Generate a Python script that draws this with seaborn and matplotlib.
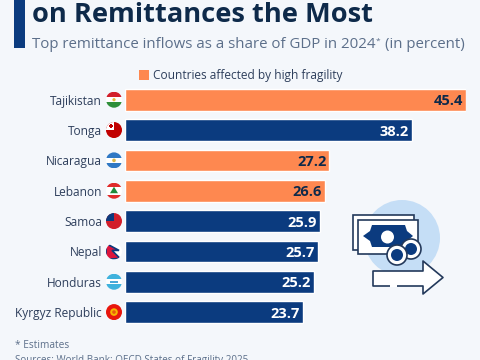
import matplotlib
matplotlib.use("Agg")
import matplotlib.pyplot as plt
from matplotlib.patches import Circle, Polygon, Rectangle
import pandas as pd
import seaborn as sns

countries = ["Tajikistan", "Tonga", "Nicaragua", "Lebanon", "Samoa", "Nepal", "Honduras", "Kyrgyz Republic"]
shares = [45.4, 38.2, 27.2, 26.6, 25.9, 25.7, 25.2, 23.7]
fragile = [True, False, True, True, False, False, False, False]
legend_label = "Countries affected by high fragility"
title = "on Remittances the Most"
subtitle = ["Top remittance inflows as a share of GDP in 2024", "*", "(in percent)"]
notes = ["* Estimates", "Sources: World Bank; OECD States of Fragility 2025"]

BG = "#f4f7fb"
NAVY = "#0b3b7f"
ORANGE = "#fe8850"
DARK = "#0e2a4a"
GREY = "#5c6f8a"
LABEL = "#2e3f5c"

sns.set_theme(style="white")
plt.rcParams["font.family"] = ["Open Sans", "DejaVu Sans"]

df = pd.DataFrame({"country": countries, "share": shares, "fragile": fragile})

fig = plt.figure(figsize=(4.8, 3.6), dpi=100, facecolor=BG)

# bars, axes placed in pixels from the top left
W, H = 480, 360
ax = fig.add_axes([125 / W, 1 - 327.3 / H, 341 / W, 242.7 / H])
ax.set_facecolor("none")
sns.barplot(data=df, x="share", y="country", hue="fragile", dodge=False, width=0.72, saturation=1,
            palette={True: ORANGE, False: NAVY}, legend=False, ax=ax)
ax.set_xlim(0, 45.4)
ax.set_ylim(7.5, -0.5)
ax.set_xlabel("")
ax.set_ylabel("")
ax.set_xticks([])
ax.tick_params(axis="y", length=0, pad=16.5, labelsize=8.6, labelcolor=LABEL)
plt.setp(ax.get_yticklabels(), va="center_baseline")
sns.despine(ax=ax, left=True, bottom=True)
for i, v in enumerate(shares):
    ax.text(v - 0.4, i, f"{v:.1f}", ha="right", va="center_baseline", fontsize=10.5, fontweight="bold",
            color=DARK if fragile[i] else "white")

# overlay in pixel coordinates for header, flags, icon
ov = fig.add_axes([0, 0, 1, 1], zorder=5)
ov.set_xlim(0, W)
ov.set_ylim(H, 0)
ov.axis("off")
ov.patch.set_alpha(0)

ov.add_patch(Rectangle((14, 0), 11, 48, color=NAVY, lw=0))
ov.text(32, 21.5, title, fontsize=19.6, fontweight="bold", color=DARK, va="baseline")
t1 = ov.text(32, 47.5, subtitle[0], fontsize=10.85, color=GREY, va="baseline")
ov.annotate(subtitle[1], xy=(1, 1), xycoords=t1, xytext=(0.2, -1), textcoords="offset points",
            fontsize=6, color=GREY, va="top")
ov.annotate(subtitle[2], xy=(1, 0), xycoords=t1, xytext=(6.5, 0), textcoords="offset points",
            fontsize=10.85, color=GREY, va="bottom")
ov.add_patch(Rectangle((138.5, 69.5), 10, 10, color=ORANGE, lw=0))
ov.text(153, 75, legend_label, fontsize=8.6, color=LABEL, va="center")


def flag(i, bands, extra=None):
    y = 99.7 + i * 30.34
    clip = Circle((114, y), 8, transform=ov.transData)
    h = 16 / len(bands)
    for k, c in enumerate(bands):
        r = Rectangle((106, y - 8 + k * h), 16, h, color=c, lw=0)
        ov.add_patch(r)
        r.set_clip_path(clip)
    if extra:
        extra(y, clip)


def tonga(y, clip):
    r = Rectangle((106, y - 8), 8, 8, color="white", lw=0)
    ov.add_patch(r)
    r.set_clip_path(clip)
    ov.add_patch(Rectangle((108.5, y - 5), 4.5, 1.5, color="#c10000", lw=0))
    ov.add_patch(Rectangle((110, y - 6.5), 1.5, 4.5, color="#c10000", lw=0))


def samoa(y, clip):
    r = Rectangle((106, y - 8), 8, 8, color=NAVY, lw=0)
    ov.add_patch(r)
    r.set_clip_path(clip)


def nepal(y, clip):
    p = Polygon([(106, y - 8), (119, y - 1), (112, y - 1), (120, y + 7), (106, y + 8)],
                closed=True, fc="#dc143c", ec=NAVY, lw=1.2)
    ov.add_patch(p)
    p.set_clip_path(clip)


def kyrgyz(y, clip):
    ov.add_patch(Circle((114, y), 3.8, color="#f7b500", lw=0))
    ov.add_patch(Circle((114, y), 1.8, color="#e8590c", lw=0))


def lebanon(y, clip):
    ov.add_patch(Polygon([(114, y - 4), (118, y + 2.5), (110, y + 2.5)], color="#1f8a3b", lw=0))


def tajik(y, clip):
    ov.add_patch(Circle((114, y), 1.6, color="#e5b93c", lw=0))


def nica(y, clip):
    ov.add_patch(Circle((114, y), 1.8, color="#d9b84a", lw=0))


def hond(y, clip):
    ov.add_patch(Rectangle((110, y - 0.8), 8, 1.6, color="#4aa8d8", lw=0))


flag(0, ["#d21f2b", "white", "#2f8f3a"], tajik)
flag(1, ["#c10000"], tonga)
flag(2, ["#2f78c4", "white", "#2f78c4"], nica)
flag(3, ["#e02b2b", "white", "white", "#e02b2b"], lebanon)
flag(4, ["#d21f2b"], samoa)
flag(5, ["white"], nepal)
flag(6, ["#3fb2dd", "white", "#3fb2dd"], hond)
flag(7, ["#e8160c"], kyrgyz)

# money icon
LINE = "#23395b"
ov.add_patch(Circle((402, 238), 38, color="#c5def6", lw=0))
ov.add_patch(Rectangle((352.5, 215), 61, 35, fc="white", ec=LINE, lw=1.2))
ov.add_patch(Rectangle((358, 220), 60, 34, fc="white", ec=LINE, lw=1.2))
ov.add_patch(Polygon([(372, 225), (405, 225), (407, 231), (413, 236), (407, 241), (405, 247),
                      (372, 247), (370, 241), (363, 236), (370, 231)], color=NAVY, lw=0))
ov.add_patch(Circle((387.5, 237), 6.5, color="white", lw=0))
ov.add_patch(Circle((411, 249), 10, fc="white", ec=LINE, lw=1.2))
ov.add_patch(Circle((411, 249), 6, color=NAVY, lw=0))
ov.add_patch(Circle((397, 255), 10, fc="white", ec=LINE, lw=1.2))
ov.add_patch(Circle((397, 255), 6, color=NAVY, lw=0))
ov.add_patch(Polygon([(373, 271), (423, 271), (423, 261), (443, 277.5), (423, 294), (423, 286), (373, 286)],
                     fc="white", ec=LINE, lw=1.2, joinstyle="round"))
ov.add_patch(Rectangle((390, 285), 7, 2, color="white", lw=0))

ov.text(15, 346, notes[0], fontsize=7.3, color=GREY, va="center")
ov.text(15, 360, notes[1], fontsize=7.1, color=GREY, va="center")

fig.savefig("out.png", dpi=100, facecolor=BG)
